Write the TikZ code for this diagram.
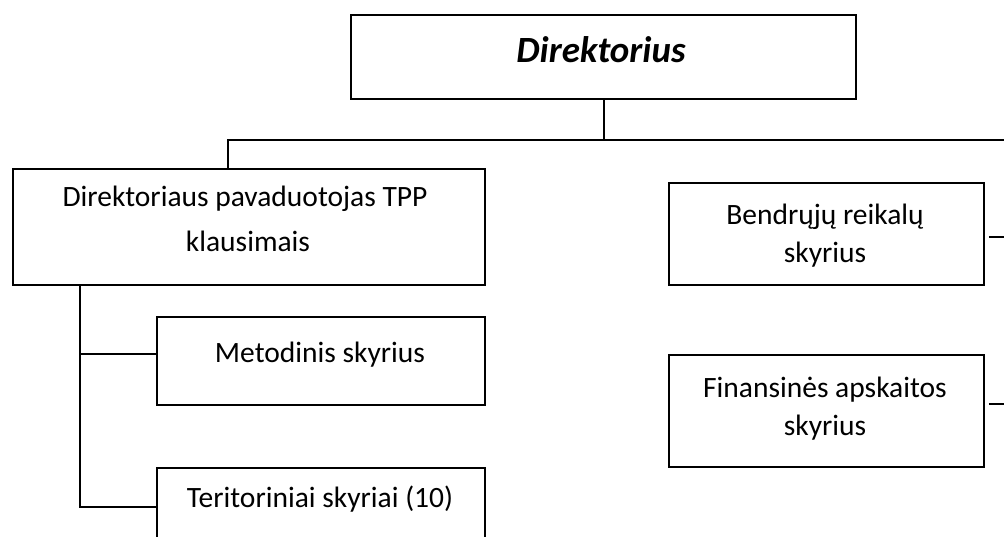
\documentclass[tikz,border=0pt]{standalone}
\usepackage{fontspec}
\setmainfont{Carlito}
\usetikzlibrary{calc}
\begin{document}
\begin{tikzpicture}[x=1pt,y=-1pt,
  box/.style={draw, line width=1.8pt, rectangle, inner sep=0pt, anchor=north west},
  conn/.style={line width=1.6pt},
  lbl/.style={font=\fontsize{29.5}{30}\selectfont, anchor=base, inner sep=0pt},
  ttl/.style={font=\fontsize{37}{40}\selectfont\bfseries\itshape, anchor=base, inner sep=0pt}]
\useasboundingbox (0,0) rectangle (1004,536);
\clip (0,0) rectangle (1004,536);
% boxes
\node[box, line width=2.4pt, minimum width=505pt, minimum height=84pt] (dir) at (350,14) {};
\node[box, minimum width=472pt, minimum height=116pt] (dep) at (12,168) {};
\node[box, minimum width=328pt, minimum height=88pt] (met) at (156,316) {};
\node[box, minimum width=328pt, minimum height=90pt] (ter) at (156,467) {};
\node[box, minimum width=315pt, minimum height=102pt] (ben) at (668,182) {};
\node[box, minimum width=315pt, minimum height=112pt] (fin) at (668,354) {};
% texts
\node[ttl] (tdir) at (601,62) {Direktorius};
\node[lbl] (tdep1) at (245,206) {Direktoriaus pavaduotojas TPP};
\node[lbl] (tdep2) at (248,251) {klausimais};
\node[lbl] (tmet) at (320,362) {Metodinis skyrius};
\node[lbl] (tter) at (320,507) {Teritoriniai skyriai (10)};
\node[lbl] (tben1) at (825,224) {Bendrųjų reikalų};
\node[lbl] (tben2) at (825,262) {skyrius};
\node[lbl] (tfin1) at (825,397) {Finansinės apskaitos};
\node[lbl] (tfin2) at (825,435) {skyrius};
% connector points
\coordinate (hub) at (dir.south |- 0,140);
\coordinate (redge) at (1004,140);
\coordinate (ljoin) at (228,140);
\coordinate (lstem) at ($(dep.south west)+(68,0)$);
\coordinate (mjoin) at ($(met.north west)+(0,38)$);
\coordinate (tjoin) at ($(ter.north west)+(0,40)$);
\coordinate (bjoin) at ($(ben.north east)+(4,55)$);
\coordinate (bend) at (1004,237);
\coordinate (fjoin) at ($(fin.north east)+(4,50)$);
\coordinate (fend) at (1004,404);
% connectors
\draw[conn] (dir.south) -- (hub);
\draw[conn] (redge) -- (ljoin) -- (ljoin |- dep.north);
\draw[conn] (lstem) |- (tjoin);
\draw[conn] (lstem |- mjoin) -- (mjoin);
\draw[conn] (bjoin) -- (bend);
\draw[conn] (fjoin) -- (fend);
\end{tikzpicture}
\end{document}
